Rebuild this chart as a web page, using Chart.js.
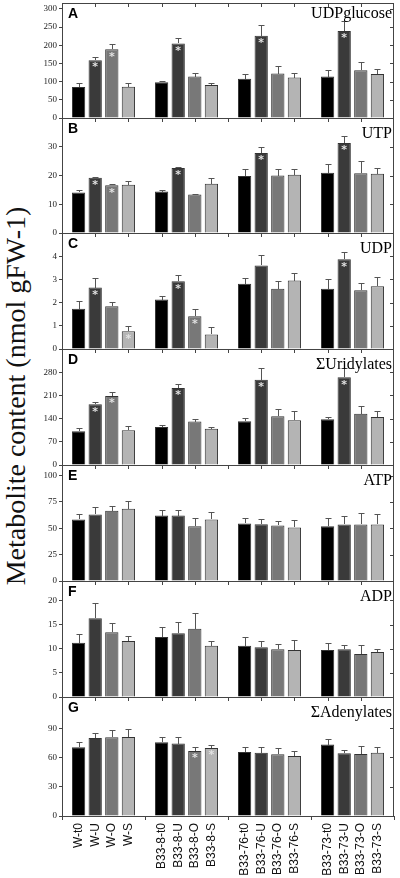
<!DOCTYPE html>
<html>
<head>
<meta charset="utf-8">
<script src="https://cdn.jsdelivr.net/npm/chart.js@4.4.1/dist/chart.umd.min.js"></script>
<style>
  html, body { margin: 0; padding: 0; background: #fff; }
  #wrap { position: relative; width: 400px; height: 878px; overflow: hidden; }
  #wrap canvas { position: absolute; left: 0; }
  #ytitle {
    position: absolute; left: 16px; top: 396px;
    transform: translate(-50%, -50%) rotate(-90deg);
    font: 28px "Liberation Serif", serif; color: #111; white-space: nowrap;
  }
</style>
</head>
<body>
<div id="wrap"><div id="ytitle">Metabolite content (nmol gFW-1)</div></div>
<script>
/* ---------- 데이터 (행 = 처리 t0/U/O/S, 열 = 계통) ---------- */
const genotypes = ["W", "B33-8", "B33-76", "B33-73"];
const treatments = ["t0", "U", "O", "S"];

const udpGlc    = [[85, 98, 108, 114], [159, 205, 226, 239], [189, 114, 122, 131], [86, 91, 111, 121]];
const udpGlcErr = [[10, 3, 14, 18], [9, 14, 30, 28], [13, 11, 20, 24], [11, 5, 14, 15]];
const udpGlcSig = [[0, 0, 0, 0], [1, 1, 1, 1], [1, 0, 0, 0], [0, 0, 0, 0]];
const udpGlcTicks = [0, 50, 100, 150, 200, 250, 300];

const utp    = [[14.1, 14.4, 19.8, 21.0], [19.2, 22.6, 27.8, 31.3], [16.6, 13.4, 20.0, 20.8], [16.8, 17.1, 20.3, 20.6]];
const utpErr = [[0.8, 0.7, 2.5, 3.0], [0.3, 0.3, 2.0, 2.4], [0.5, 0.1, 2.3, 4.2], [1.2, 2.1, 2.0, 2.1]];
const utpSig = [[0, 0, 0, 0], [1, 1, 1, 1], [1, 0, 0, 0], [0, 0, 0, 0]];
const utpTicks = [0, 10, 20, 30];

const udp    = [[1.74, 2.13, 2.81, 2.60], [2.65, 2.92, 3.60, 3.87], [1.84, 1.41, 2.60, 2.53], [0.76, 0.63, 2.95, 2.70]];
const udpErr = [[0.32, 0.14, 0.24, 0.40], [0.40, 0.29, 0.46, 0.30], [0.20, 0.30, 0.32, 0.30], [0.23, 0.31, 0.32, 0.39]];
const udpSig = [[0, 0, 0, 0], [1, 1, 0, 1], [0, 1, 0, 0], [1, 0, 0, 0]];
const udpTicks = [0, 1, 2, 3, 4];

const uridyl    = [[102, 115, 132, 138], [183, 232, 257, 265], [208, 131, 147, 155], [105, 109, 135, 145]];
const uridylErr = [[9, 6, 9, 6], [8, 12, 35, 27], [13, 7, 21, 22], [13, 5, 28, 17]];
const uridylSig = [[0, 0, 0, 0], [1, 1, 1, 1], [1, 0, 0, 0], [0, 0, 0, 0]];
const uridylTicks = [0, 70, 140, 210, 280];

const atp    = [[58.4, 62.1, 54.6, 52.0], [63.1, 62.1, 53.9, 53.6], [66.6, 52.0, 52.7, 53.6], [68.5, 58.4, 50.8, 53.6]];
const atpErr = [[5.0, 5.1, 5.6, 7.3], [6.6, 5.7, 4.5, 7.6], [4.7, 7.3, 3.8, 10.7], [7.8, 6.6, 6.6, 9.8]];
const atpSig = [[0, 0, 0, 0], [0, 0, 0, 0], [0, 0, 0, 0], [0, 0, 0, 0]];
const atpTicks = [0, 25, 50, 75, 100];

const adp    = [[11.2, 12.4, 10.6, 9.7], [16.3, 13.2, 10.3, 9.9], [13.4, 14.1, 9.9, 8.9], [11.6, 10.6, 9.7, 9.3]];
const adpErr = [[1.8, 2.1, 1.9, 1.5], [3.1, 2.3, 1.3, 0.9], [1.9, 3.3, 1.1, 1.9], [1.0, 1.0, 2.1, 0.7]];
const adpSig = [[0, 0, 0, 0], [0, 0, 0, 0], [0, 0, 0, 0], [0, 0, 0, 0]];
const adpTicks = [0, 5, 10, 15, 20];

const adenyl    = [[70.4, 75.6, 65.6, 73.2], [80.0, 74.2, 64.9, 64.3], [80.8, 66.7, 63.2, 63.6], [81.1, 69.8, 61.5, 64.9]];
const adenylErr = [[5.9, 5.5, 5.2, 5.5], [5.2, 6.9, 5.9, 3.4], [7.2, 4.4, 6.6, 8.6], [7.9, 3.1, 5.2, 5.9]];
const adenylSig = [[0, 0, 0, 0], [0, 0, 0, 0], [0, 1, 0, 0], [0, 1, 0, 0]];
const adenylTicks = [0, 30, 60, 90];

/* ---------- 패널 배치 ---------- */
const barColors = ["#000000", "#3a3a3a", "#787878", "#b4b4b4"];
const LINE = "#444";
const PAD = 8;

const panels = [
  { tag: "A", name: "UDPglucose",   mean: udpGlc, err: udpGlcErr, sig: udpGlcSig, ticks: udpGlcTicks, max: 316, top: 3,   bottom: 118 },
  { tag: "B", name: "UTP",          mean: utp,    err: utpErr,    sig: utpSig,    ticks: utpTicks,    max: 40,  top: 118, bottom: 233 },
  { tag: "C", name: "UDP",          mean: udp,    err: udpErr,    sig: udpSig,    ticks: udpTicks,    max: 5,   top: 233, bottom: 349 },
  { tag: "D", name: "ΣUridylates",  mean: uridyl, err: uridylErr, sig: uridylSig, ticks: uridylTicks, max: 350, top: 349, bottom: 465 },
  { tag: "E", name: "ATP",          mean: atp,    err: atpErr,    sig: atpSig,    ticks: atpTicks,    max: 110, top: 465, bottom: 581 },
  { tag: "F", name: "ADP",          mean: adp,    err: adpErr,    sig: adpSig,    ticks: adpTicks,    max: 24,  top: 581, bottom: 697 },
  { tag: "G", name: "ΣAdenylates",  mean: adenyl, err: adenylErr, sig: adenylSig, ticks: adenylTicks, max: 122, top: 697, bottom: 816, last: true },
];

/* 오차막대, 별표, 테두리, 눈금, 제목 */
function makeDecor(p) {
  return {
    id: "decor" + p.tag,
    afterDatasetsDraw(chart) {
      const { ctx, scales: { y } } = chart;
      ctx.save();
      chart.data.datasets.forEach((ds, i) => {
        chart.getDatasetMeta(i).data.forEach((el, j) => {
          const x = Math.round(el.x) + 0.5;
          const yt = Math.round(y.getPixelForValue(ds.data[j] + p.err[i][j])) + 0.5;
          ctx.strokeStyle = "#555";
          ctx.lineWidth = 1;
          ctx.beginPath();
          ctx.moveTo(x, Math.round(el.y));
          ctx.lineTo(x, yt);
          ctx.moveTo(x - 3, yt);
          ctx.lineTo(x + 3, yt);
          ctx.stroke();
          if (p.sig[i][j]) {
            ctx.fillStyle = "#e2e2e2";
            ctx.font = "bold 11px 'DejaVu Sans'";
            ctx.textAlign = "center";
            ctx.textBaseline = "top";
            ctx.fillText("*", el.x, el.y + 2);
          }
        });
      });
      ctx.restore();
    },
    afterDraw(chart) {
      const { ctx, chartArea: a, scales: { y } } = chart;
      ctx.save();
      ctx.strokeStyle = LINE;
      ctx.lineWidth = 1;
      ctx.strokeRect(a.left + 0.5, a.top + 0.5, a.right - a.left - 1, a.bottom - a.top);
      ctx.beginPath();
      // 위쪽 안쪽 눈금
      for (let k = 1; k < 10; k++) {
        const xx = Math.round(a.left + (k * (a.right - a.left)) / 10) + 0.5;
        ctx.moveTo(xx, a.top);
        ctx.lineTo(xx, a.top + 4);
      }
      // 오른쪽 안쪽 눈금
      p.ticks.forEach((v) => {
        const yy = Math.round(y.getPixelForValue(v)) + 0.5;
        ctx.moveTo(a.right - 4, yy);
        ctx.lineTo(a.right, yy);
      });
      ctx.stroke();

      ctx.fillStyle = "#000";
      ctx.textBaseline = "alphabetic";
      ctx.textAlign = "left";
      ctx.font = "bold 14px 'Liberation Sans'";
      ctx.fillText(p.tag, a.left + 6, a.top + 15);
      ctx.textAlign = "right";
      ctx.font = "16px 'Liberation Serif'";
      ctx.fillText(p.name, a.right - 2, a.top + (p.tag === "A" ? 15 : 20));

      if (p.last) {
        ctx.fillStyle = "#111";
        ctx.font = "12px 'Liberation Sans'";
        ctx.textBaseline = "middle";
        chart.data.datasets.forEach((ds, i) => {
          chart.getDatasetMeta(i).data.forEach((el, j) => {
            ctx.save();
            ctx.translate(el.x, a.bottom + 7);
            ctx.rotate(-Math.PI / 2);
            ctx.textAlign = "right";
            ctx.fillText(genotypes[j] + "-" + treatments[i], 0, 0);
            ctx.restore();
          });
        });
      }
      ctx.restore();
    },
  };
}

const wrap = document.getElementById("wrap");
panels.forEach((p) => {
  const cv = document.createElement("canvas");
  const top = p.top - PAD;
  const h = p.last ? 878 - top : p.bottom - p.top + PAD * 2;
  cv.width = 400;
  cv.height = h;
  cv.style.top = top + "px";
  cv.style.width = "400px";
  cv.style.height = h + "px";
  wrap.appendChild(cv);

  new Chart(cv, {
    type: "bar",
    data: {
      labels: genotypes,
      datasets: treatments.map((t, i) => ({
        label: t,
        data: p.mean[i],
        backgroundColor: barColors[i],
        borderColor: "#333",
        borderWidth: 1,
        categoryPercentage: 0.8,
        barPercentage: 0.8,
      })),
    },
    options: {
      responsive: false,
      animation: false,
      devicePixelRatio: 1,
      layout: { padding: { top: PAD, bottom: p.last ? 0 : PAD, left: 0, right: 6 } },
      plugins: { legend: { display: false }, tooltip: { enabled: false } },
      scales: {
        x: {
          type: "category",
          offset: true,
          ticks: { display: false },
          grid: {
            display: !!p.last,
            drawOnChartArea: false,
            drawTicks: true,
            tickLength: 4,
            color: LINE,
            offset: true,
          },
          border: { display: false },
          afterFit: (s) => { s.height = p.last ? 878 - p.bottom : 0; },
        },
        y: {
          min: 0,
          max: p.max,
          afterBuildTicks: (s) => { s.ticks = p.ticks.map((v) => ({ value: v })); },
          ticks: {
            autoSkip: false,
            padding: 2,
            color: "#222",
            font: { family: "Liberation Serif", size: 9 },
          },
          grid: { drawOnChartArea: false, drawTicks: true, tickLength: 3, color: LINE },
          border: { display: false },
          afterFit: (s) => { s.width = 62; },
        },
      },
    },
    plugins: [makeDecor(p)],
  });
});
</script>
</body>
</html>
